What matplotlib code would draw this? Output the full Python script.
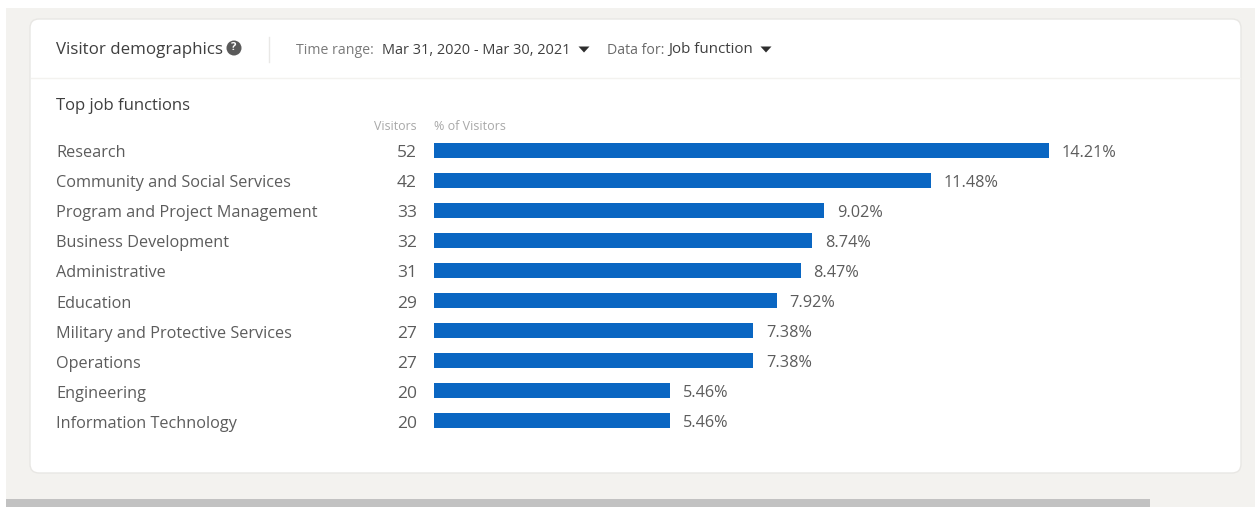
import matplotlib
matplotlib.use("Agg")
import matplotlib.pyplot as plt
from matplotlib.patches import FancyBboxPatch, Rectangle, Circle

functions = [
    "Research",
    "Community and Social Services",
    "Program and Project Management",
    "Business Development",
    "Administrative",
    "Education",
    "Military and Protective Services",
    "Operations",
    "Engineering",
    "Information Technology",
]
visitors = [52, 42, 33, 32, 31, 29, 27, 27, 20, 20]
percent = [14.21, 11.48, 9.02, 8.74, 8.47, 7.92, 7.38, 7.38, 5.46, 5.46]

W, H = 1255, 507
plt.rcParams["font.family"] = ["Open Sans", "DejaVu Sans"]

fig = plt.figure(figsize=(W / 100, H / 100), dpi=100, facecolor="white")

# page furniture is placed in pixel coordinates of the screenshot
bg = fig.add_axes([0, 0, 1, 1])
bg.set_xlim(0, W)
bg.set_ylim(H, 0)
bg.axis("off")
bg.add_patch(Rectangle((6, 8), W - 6, H - 8, fc="#f3f2ef", ec="none"))
bg.add_patch(Rectangle((6, 499), 1144, 8, fc="#c2c2c2", ec="none"))
bg.add_patch(FancyBboxPatch((30, 19), 1211, 454, boxstyle="round,pad=0,rounding_size=9",
                            fc="white", ec="#e8e7e4", lw=1))
bg.plot([31, 1240], [78, 78], color="#f3f2ef", lw=1)
bg.plot([269, 269], [37, 62], color="#e9e8e6", lw=1)

dark = "#3f3f3f"
mid = "#5c5c5c"
light = "#a8a8a8"
bg.text(56, 50, "Visitor demographics", fontsize=12.2, color=dark, va="center", fontweight="medium")
bg.add_patch(Circle((234, 48), 7.5, fc="#5a5a5a", ec="none"))
bg.text(234, 48, "?", fontsize=8, color="white", va="center", ha="center", fontweight="bold")
bg.text(296, 50, "Time range:", fontsize=10.2, color="#7a7a7a", va="center")
bg.text(382, 50, "Mar 31, 2020 - Mar 30, 2021", fontsize=10.45, color=dark, va="center")
bg.text(607, 50, "Data for:", fontsize=10.2, color="#6a6a6a", va="center")
bg.text(668, 50, "Job function", fontsize=10.9, color=dark, va="center")
for tx in [584, 766]:
    bg.fill([tx - 5.5, tx + 5.5, tx], [46.5, 46.5, 52.5], color="#2e2e2e", lw=0)

bg.text(56, 106, "Top job functions", fontsize=12, color=dark, va="center", fontweight="medium")
bg.text(417, 127, "Visitors", fontsize=8.9, color=light, va="center", ha="right")
bg.text(434, 127, "% of Visitors", fontsize=9, color=light, va="center")

# bar axes spans 434-1049 px, so the longest bar fills it
ax = fig.add_axes([434 / W, 1 - 435 / H, 615 / W, 300 / H])
ax.set_xlim(0, max(percent))
ax.set_ylim(len(functions) - 0.5, -0.5)
ax.axis("off")
ax.patch.set_alpha(0)
y = range(len(functions))
bars = ax.barh(y, percent, height=0.5, color="#0a66c2")
labels = ax.bar_label(bars, labels=[f"{p:.2f}%" for p in percent], padding=9,
                      fontsize=11.7, color=mid, clip_on=False)
# labels sit a little under the bar centre in the reference
for lab in labels:
    lab.xyann = (9, -2)

for i, name in enumerate(functions):
    py = 153 + 30.1 * i
    bg.text(56, py, name, fontsize=11.7, color=mid, va="center")
    bg.text(417, py, str(visitors[i]), fontsize=12.5, color=mid, va="center", ha="right")

fig.savefig("out.png", dpi=100)
